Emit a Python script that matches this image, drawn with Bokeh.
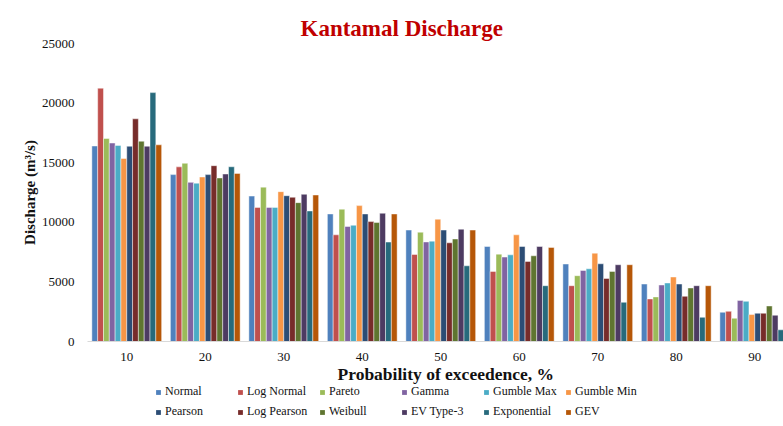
import numpy as np
from bokeh.plotting import figure
from bokeh.layouts import column
from bokeh.models import (ColumnDataSource, Range1d, FixedTicker, Legend,
                          LegendItem, Title)
from bokeh.transform import dodge
from bokeh.embed import file_html
from bokeh.resources import INLINE

# ---------------- data ----------------
categories = ["10", "20", "30", "40", "50", "60", "70", "80", "90"]
series_names = ["Normal", "Log Normal", "Pareto", "Gamma", "Gumble Max",
                "Gumble Min", "Pearson", "Log Pearson", "Weibull",
                "EV Type-3", "Exponential", "GEV"]

normal      = [16400, 14000, 12200, 10700, 9350, 7970, 6500, 4820, 2450]
log_normal  = [21250, 14650, 11250, 8950, 7300, 5880, 4680, 3570, 2530]
pareto      = [17030, 14950, 12950, 11100, 9170, 7330, 5520, 3740, 1950]
gamma       = [16650, 13350, 11250, 9650, 8350, 7080, 5960, 4740, 3450]
gumble_max  = [16450, 13280, 11250, 9750, 8420, 7270, 6100, 4910, 3370]
gumble_min  = [15350, 13800, 12570, 11400, 10260, 8950, 7410, 5410, 2260]
pearson     = [16380, 14000, 12230, 10700, 9350, 7970, 6520, 4820, 2370]
log_pearson = [18680, 14750, 12100, 10060, 8280, 6720, 5290, 3790, 2370]
weibull     = [16800, 13720, 11650, 9980, 8600, 7190, 5880, 4490, 2980]
ev_type3    = [16380, 14050, 12350, 10760, 9420, 7970, 6440, 4680, 2200]
exponential = [20880, 14660, 10950, 8340, 6350, 4680, 3290, 2030, 980]
gev         = [16500, 14100, 12290, 10700, 9350, 7890, 6440, 4680, 2300]

series_values = [normal, log_normal, pareto, gamma, gumble_max, gumble_min,
                 pearson, log_pearson, weibull, ev_type3, exponential, gev]

colors = ["#4F81BD", "#C0504D", "#9BBB59", "#8064A2", "#4BACC6", "#F79646",
          "#2C4D75", "#772C2A", "#5F7530", "#4D3B62", "#276A7C", "#B65708"]

y_ticks = [0, 5000, 10000, 15000, 20000, 25000]

FONT = "Liberation Serif"

centers = [i + 0.5 for i in range(len(categories))]
data = {"x": centers}
for j, vals in enumerate(series_values):
    data[f"s{j}"] = vals
source = ColumnDataSource(data)
n = len(series_names)
w = 1.0 / (n + 1.5)

# ---------------- main chart ----------------
p = figure(width=783, height=385, output_backend="svg", toolbar_location=None,
           x_range=Range1d(0, 8.866), y_range=Range1d(0, 25000),
           min_border_left=87, min_border_right=0, min_border_top=43,
           min_border_bottom=43)
p.outline_line_color = None
p.xgrid.visible = False
p.ygrid.visible = False

for j in range(n):
    p.vbar(x=dodge("x", (j - (n - 1) / 2) * w, range=p.x_range),
           top=f"s{j}", width=w, source=source,
           fill_color=colors[j], line_color="white", line_alpha=0.45,
           line_width=1)

p.xaxis.ticker = FixedTicker(ticks=centers)
p.xaxis.major_label_overrides = {c: lab for c, lab in zip(centers, categories)}
p.yaxis.ticker = FixedTicker(ticks=y_ticks)
for ax in (p.xaxis, p.yaxis):
    ax.major_tick_line_color = None
    ax.minor_tick_line_color = None
    ax.major_tick_out = 0
    ax.major_tick_in = 0
    ax.minor_tick_out = 0
    ax.minor_tick_in = 0
    ax.major_label_text_font = FONT
    ax.major_label_text_font_size = "13px"
    ax.major_label_text_color = "#111111"
    ax.axis_label_text_font = FONT
    ax.axis_label_text_font_style = "bold"
    ax.axis_label_text_color = "#111111"
p.yaxis.axis_line_color = None
p.xaxis.axis_line_color = "#D9D9D9"
p.xaxis.major_label_standoff = 11
p.yaxis.major_label_standoff = 13

p.yaxis.axis_label = "Discharge (m\u00b3/s)"
p.yaxis.axis_label_text_font_size = "15px"
p.yaxis.axis_label_standoff = 1

xtitle = Title(text="Probability of exceedence, %", align="left", offset=250,
               text_font=FONT, text_font_size="17.5px", text_font_style="bold",
               text_color="#111111", standoff=0, vertical_align="top")
p.add_layout(xtitle, "below")

p.title.text = "Kantamal Discharge"
p.title.align = "left"
p.title.offset = 213
p.title.text_color = "#C00000"
p.title.text_font = FONT
p.title.text_font_size = "23px"
p.title.text_font_style = "bold"
p.title.standoff = 6

# ---------------- legend strip ----------------
lg = figure(width=783, height=41, output_backend="svg", toolbar_location=None,
            x_range=Range1d(0, 1), y_range=Range1d(0, 1),
            x_axis_type=None, y_axis_type=None,
            min_border_left=0, min_border_right=0, min_border_top=0,
            min_border_bottom=0)
lg.outline_line_color = None
lg.xgrid.visible = False
lg.ygrid.visible = False

# legend-only renderers: zero-size bars so only their legend swatches show
legend_src = ColumnDataSource(dict(x=[0.5], bottom=[0.5], top=[0.5]))
legend_renderers = []
for j in range(n):
    r = lg.vbar(x="x", bottom="bottom", top="top", width=0,
                source=legend_src, fill_color=colors[j], line_color=None)
    legend_renderers.append(r)

items = [LegendItem(label=name, renderers=[r])
         for name, r in zip(series_names, legend_renderers)]
for k, loc in enumerate([(68, 27), (68, 7)]):
    leg = Legend(items=items[k * 6:(k + 1) * 6], location=loc,
                 orientation="horizontal", glyph_width=6, glyph_height=6,
                 label_standoff=4, label_width=72, label_height=14,
                 spacing=0, padding=0, margin=0, border_line_color=None,
                 background_fill_alpha=0, label_text_font=FONT,
                 label_text_font_size="12px", label_text_color="#111111")
    lg.add_layout(leg)

open("out.html", "w").write(file_html(column(p, lg), INLINE))
